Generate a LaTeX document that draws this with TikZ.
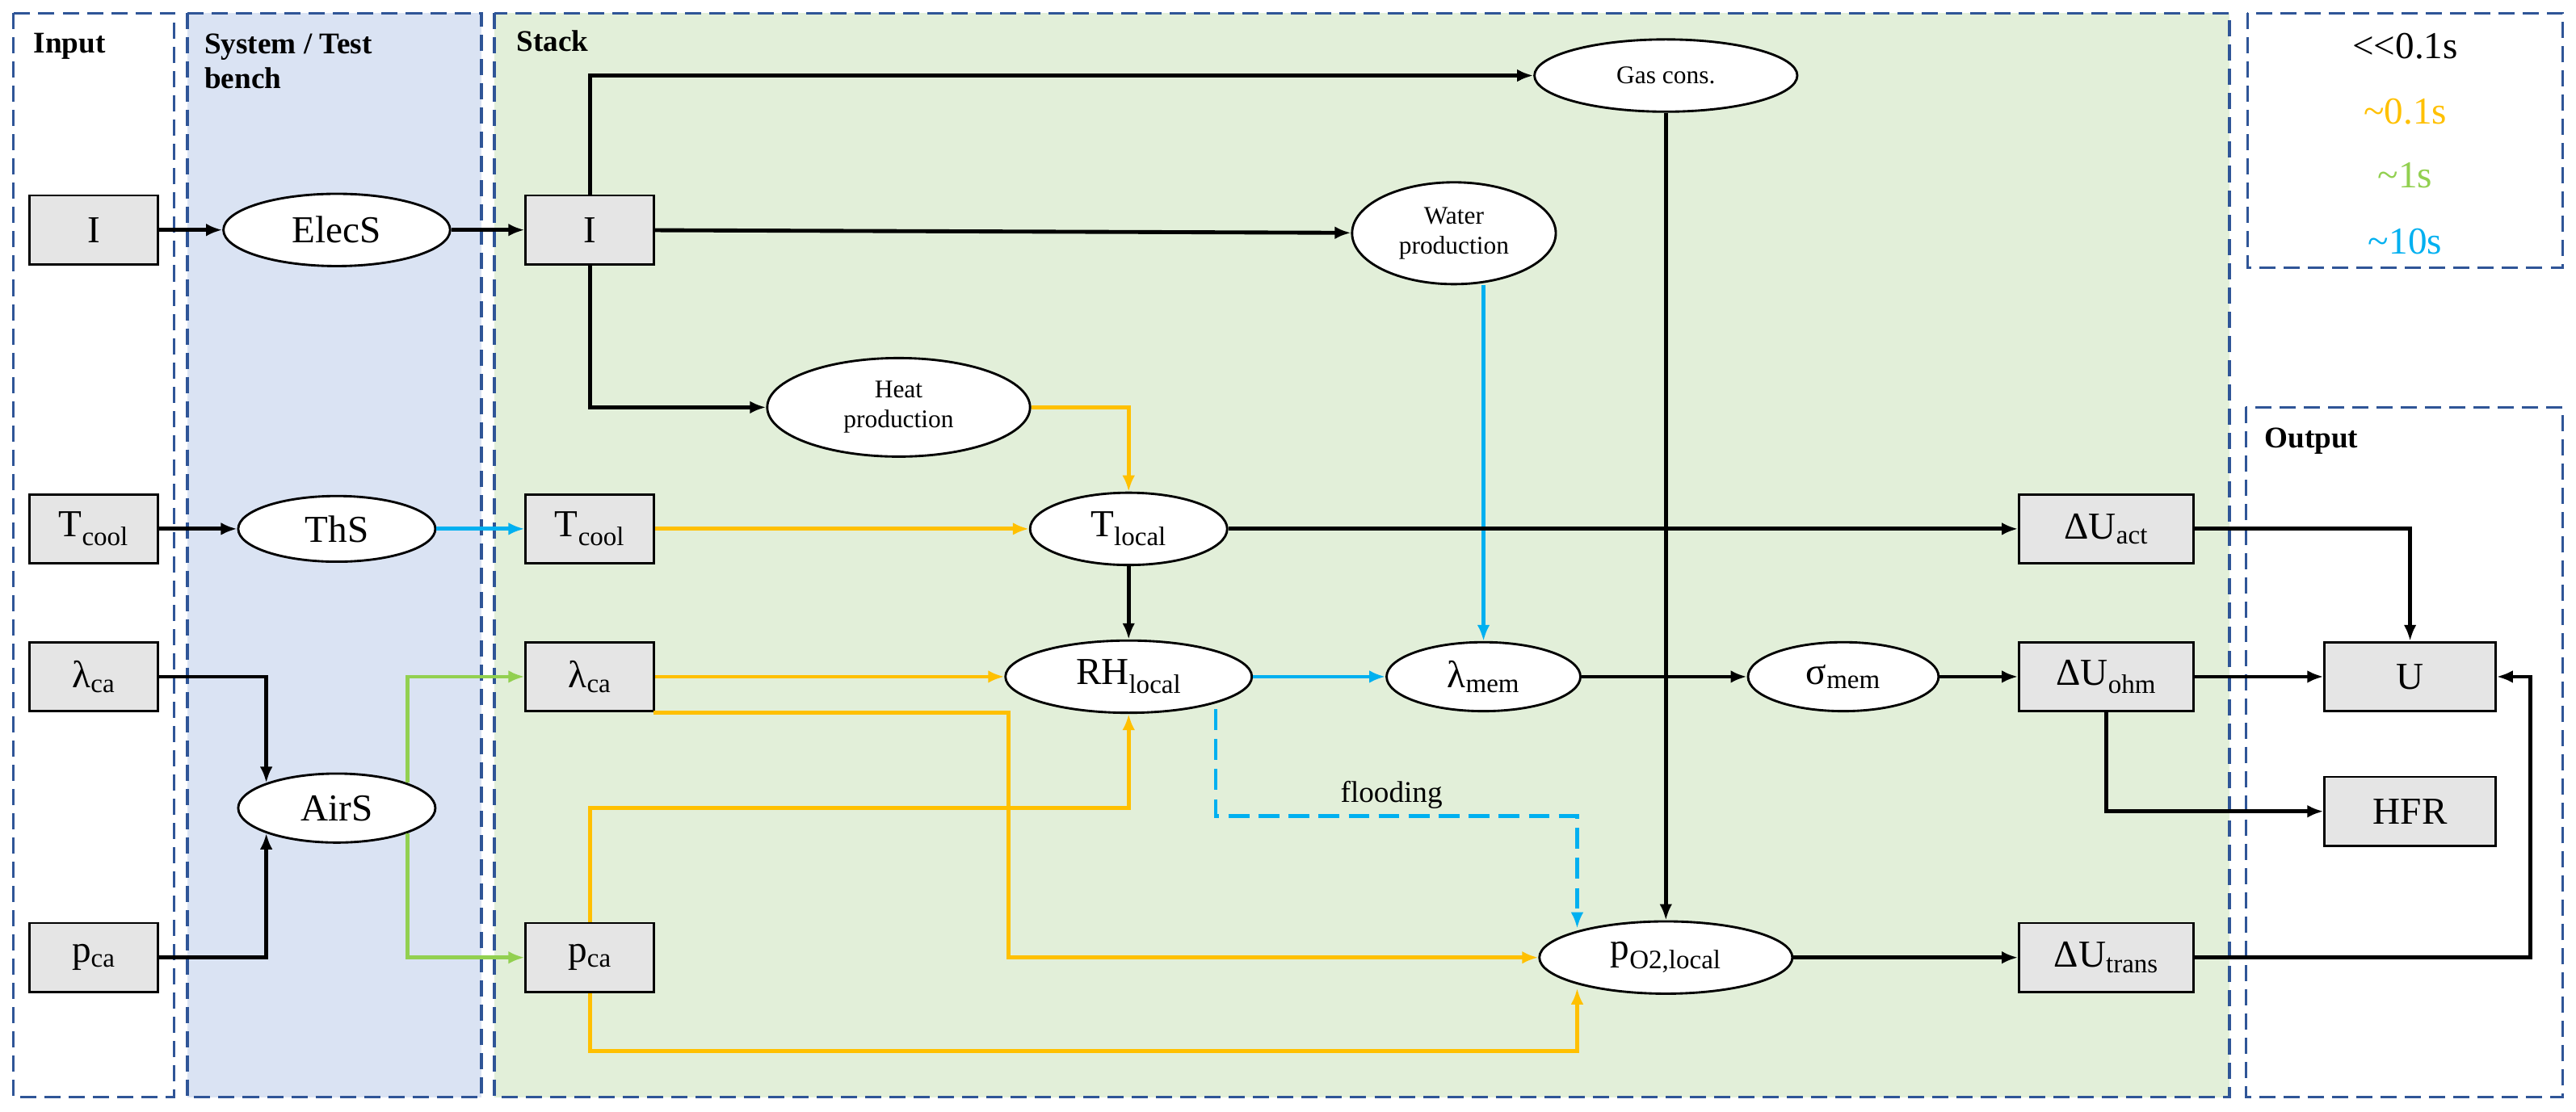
\documentclass[tikz,border=0pt]{standalone}
\usepackage{fontspec}
\setmainfont{Liberation Serif}
\usetikzlibrary{arrows.meta,shapes.geometric,calc}
\definecolor{dblue}{HTML}{2F5597}
\definecolor{sysfill}{HTML}{DAE3F3}
\definecolor{stfill}{HTML}{E2EFD9}
\definecolor{cor}{HTML}{FFC000}
\definecolor{cbl}{HTML}{00B0F0}
\definecolor{cgr}{HTML}{92D050}
\begin{document}
\begin{tikzpicture}[x=0.05cm,y=-0.05cm,
  zone/.style={draw=dblue,dash pattern=on 14pt off 7pt,line width=2.4pt},
  box/.style={draw,fill=gray!20,line width=2pt,minimum width=3.9cm,minimum height=2.1cm,font=\fontsize{33}{38}\selectfont,inner sep=0pt},
  ell/.style={draw,fill=white,ellipse,line width=2pt,inner sep=0pt,font=\fontsize{33}{38}\selectfont,align=center},
  sell/.style={ell,font=\fontsize{22}{26}\selectfont},
  hdr/.style={anchor=north west,font=\bfseries\fontsize{26}{30}\selectfont,align=left},
  c/.style={line width=3.4pt,-{Latex[length=14pt,width=11pt]}},
  co/.style={c,draw=cor},
  cb/.style={c,draw=cbl},
  cg/.style={c,draw=cgr}]
\useasboundingbox (0,0) rectangle (1568,677);
\fill[white] (0,0) rectangle (1568,677);
% zones
\draw[zone] (8,8) rectangle (106,668);
\draw[zone,fill=sysfill] (114,8) rectangle (293,668);
\draw[zone,fill=stfill] (301,8) rectangle (1357,668);
\draw[zone] (1368,8) rectangle (1560,163);
\draw[zone] (1367,248) rectangle (1560,668);
\node[hdr] (hin) at (18,18) {Input};
\node[hdr] (hsys) at (122,18) {System / Test\\bench};
\node[hdr] (hst) at (312,16) {Stack};
\node[hdr] (hout) at (1376,258) {Output};
\begin{scope}[font=\fontsize{33}{38}\selectfont]
\node (l1) at (1464,28) {<{}<0.1s};
\node[text=cor] (l2) at (1464,68) {\textasciitilde0.1s};
\node[text=cgr] (l3) at (1464,107) {\textasciitilde1s};
\node[text=cbl] (l4) at (1464,147) {\textasciitilde10s};
\end{scope}
% nodes
\node[box] (iI) at (57,140) {I};
\node[box] (iT) at (57,322) {T\textsubscript{cool}};
\node[box] (iL) at (57,412) {λ\textsubscript{ca}};
\node[box] (iP) at (57,583) {p\textsubscript{ca}};
\node[ell,minimum width=6.9cm,minimum height=2.2cm] (elec) at (205,140) {ElecS};
\node[ell,minimum width=6cm,minimum height=2cm] (ths) at (205,322) {ThS};
\node[ell,minimum width=6cm,minimum height=2.1cm] (air) at (205,492) {AirS};
\node[box] (sI) at (359,140) {I};
\node[box] (sT) at (359,322) {T\textsubscript{cool}};
\node[box] (sL) at (359,412) {λ\textsubscript{ca}};
\node[box] (sP) at (359,583) {p\textsubscript{ca}};
\node[sell,minimum width=8cm,minimum height=2.2cm] (gas) at (1014,46) {Gas cons.};
\node[sell,minimum width=6.2cm,minimum height=3.1cm] (wat) at (885,142) {Water\\production};
\node[sell,minimum width=8cm,minimum height=3cm] (heat) at (547,248) {Heat\\production};
\node[ell,minimum width=6cm,minimum height=2.2cm] (tl) at (687,322) {T\textsubscript{local}};
\node[ell,minimum width=7.5cm,minimum height=2.2cm] (rh) at (687,412) {RH\textsubscript{local}};
\node[ell,minimum width=5.9cm,minimum height=2.1cm] (lm) at (903,412) {λ\textsubscript{mem}};
\node[ell,minimum width=5.8cm,minimum height=2.1cm] (sm) at (1122,412) {σ\textsubscript{mem}};
\node[ell,minimum width=7.7cm,minimum height=2.2cm] (po) at (1014,583) {p\textsubscript{O2,local}};
\node[box,minimum width=5.3cm] (ua) at (1282,322) {ΔU\textsubscript{act}};
\node[box,minimum width=5.3cm] (uo) at (1282,412) {ΔU\textsubscript{ohm}};
\node[box,minimum width=5.3cm] (ut) at (1282,583) {ΔU\textsubscript{trans}};
\node[box,minimum width=5.2cm] (U) at (1467,412) {U};
\node[box,minimum width=5.2cm] (hfr) at (1467,494) {HFR};
% connectors
\draw[c] (iI) -- (elec);
\draw[c] (elec) -- (sI);
\draw[c] (iT) -- (ths);
\draw[cb] (ths) -- (sT);
\draw[c] (iL.east) -| (air.north west);
\draw[c] (iP.east) -| (air.south west);
\draw[cg] (air.north east) |- (sL.west);
\draw[cg] (air.south east) |- (sP.west);
\draw[c] (sI.north) |- (gas.west);
\draw[c] (sI) -- (wat);
\draw[c] (sI.south) |- (heat.west);
\draw[co] (heat.east) -| (tl.north);
\draw[co] (sT) -- (tl);
\draw[cb] (wat.south -| lm.north) -- (lm.north);
\draw[c] (tl) -- (rh);
\draw[c] (tl) -- (ua);
\draw[co] (sL.east) -- (rh.west |- sL.east);
\coordinate (a1) at (614,434);
\draw[co] (398,434) -- (a1) |- (po.west);
\coordinate (a2) at (359,492);
\draw[co] (sP.north) |- (rh.south |- a2) -- (rh.south);
\coordinate (a3) at (960,640);
\draw[co] (sP.south) |- (a3) -- ($(po.south)+(-54,-4)$);
\draw[cb] (rh) -- (lm);
\coordinate (a4) at (740,497);
\draw[cb,dash pattern=on 18pt off 8pt] ($(a4 |- rh.south)+(0,-3)$) -- (a4) -| ($(po.north)+(-54,5)$);
\node[font=\fontsize{26}{30}\selectfont] (fl) at (847,484) {flooding};
\draw[c] (lm) -- (sm);
\draw[c] (sm) -- (uo);
\draw[c] (gas) -- (po);
\draw[c] (po) -- (ut);
\draw[c] (ua.east) -| (U.north);
\draw[c] (uo) -- (U);
\draw[c] (uo.south) |- (hfr.west);
\coordinate (a5) at (1540,583);
\draw[c] (ut.east) -- (a5) |- (U.east);
\end{tikzpicture}
\end{document}
